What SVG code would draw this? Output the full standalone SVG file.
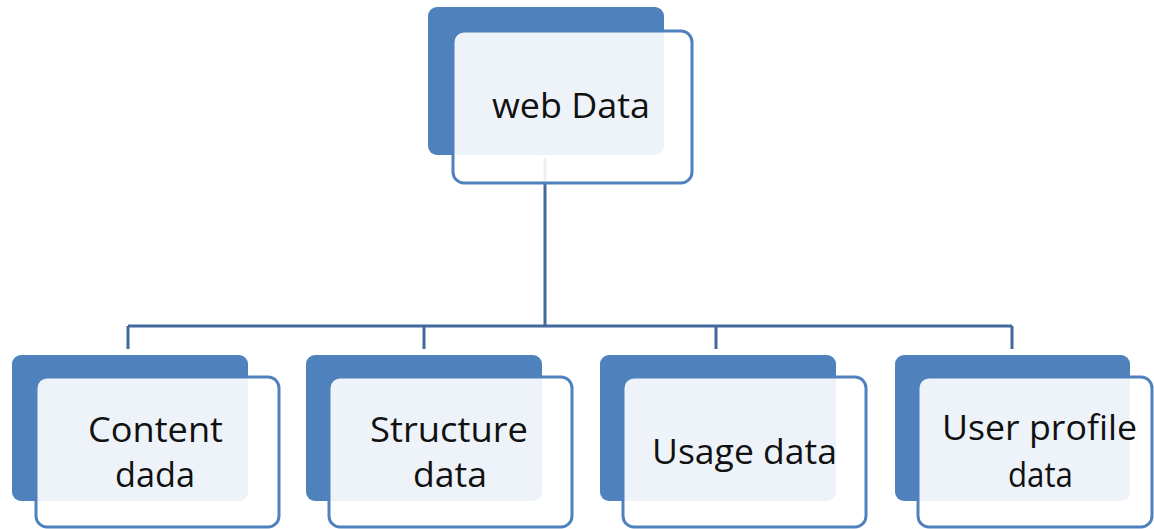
<svg xmlns="http://www.w3.org/2000/svg" width="1154" height="529" viewBox="0 0 1154 529">
  <style>
    .back { fill: #4F81BD; }
    .front { fill: #FFFFFF; fill-opacity: 0.9; stroke: #4F81BD; stroke-width: 3; }
    .link { fill: none; stroke: #41699B; stroke-width: 3; }
    .label { font-family: "Open Sans", "Liberation Sans", sans-serif; font-size: 34px; fill: #111111; }
  </style>
  <rect width="1154" height="529" fill="#FFFFFF"/>

  <!-- connectors: root trunk, bus bar and four drops -->
  <g id="connectors">
    <path class="link" d="M545 158 V326"/>
    <path class="link" d="M128 326 H1012"/>
    <path class="link" d="M128 326 V349"/>
    <path class="link" d="M424 326 V349"/>
    <path class="link" d="M716 326 V349"/>
    <path class="link" d="M1012 326 V349"/>
  </g>

  <g id="web-data">
    <rect class="back" x="428" y="7" width="236" height="148" rx="9"/>
    <rect class="front" x="453" y="31" width="239" height="152" rx="11"/>
    <text class="label" x="492" y="118" textLength="158" lengthAdjust="spacingAndGlyphs">web Data</text>
  </g>

  <g id="content-data">
    <rect class="back" x="12" y="355" width="236" height="146" rx="9"/>
    <rect class="front" x="36" y="377" width="243" height="150" rx="11"/>
    <text class="label" x="88" y="442" textLength="135" lengthAdjust="spacingAndGlyphs">Content</text>
    <text class="label" x="115" y="487" textLength="80" lengthAdjust="spacingAndGlyphs">dada</text>
  </g>

  <g id="structure-data">
    <rect class="back" x="306" y="355" width="236" height="146" rx="9"/>
    <rect class="front" x="329" y="377" width="243" height="150" rx="11"/>
    <text class="label" x="370" y="442" textLength="158" lengthAdjust="spacingAndGlyphs">Structure</text>
    <text class="label" x="413" y="487" textLength="74" lengthAdjust="spacingAndGlyphs">data</text>
  </g>

  <g id="usage-data">
    <rect class="back" x="600" y="355" width="236" height="146" rx="9"/>
    <rect class="front" x="623" y="377" width="243" height="150" rx="11"/>
    <text class="label" x="652" y="464" textLength="185" lengthAdjust="spacingAndGlyphs">Usage data</text>
  </g>

  <g id="user-profile-data">
    <rect class="back" x="895" y="355" width="235" height="146" rx="9"/>
    <rect class="front" x="918" y="377" width="234" height="150" rx="11"/>
    <text class="label" x="942" y="440" textLength="195" lengthAdjust="spacingAndGlyphs">User profile</text>
    <text class="label" x="1008" y="487" textLength="65" lengthAdjust="spacingAndGlyphs">data</text>
  </g>
</svg>
